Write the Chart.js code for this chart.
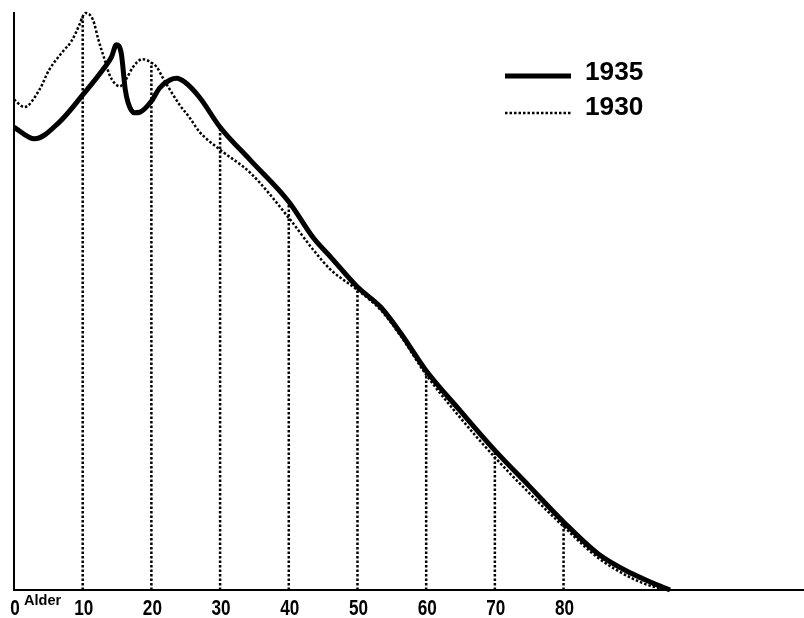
<!DOCTYPE html>
<html>
<head>
<meta charset="utf-8">
<script src="https://cdn.jsdelivr.net/npm/chart.js@4.4.1/dist/chart.umd.min.js"></script>
<style>
  html, body { margin: 0; padding: 0; background: #fff; }
  #wrap { width: 804px; height: 618px; }
</style>
</head>
<body>
<div id="wrap"><canvas id="chart" width="804" height="618"></canvas></div>
<script>
// Age (years) and relative value (0 = axis, 100 = top of y axis)
const ages1935 = [0, 3, 6.6, 10, 13.2, 14.2, 14.9, 15.6, 16.2, 16.6, 17.5, 18.3, 20, 21.2, 22.7, 23.7, 24.9, 27, 30, 34.4, 40, 43.6, 46.1, 50, 53.4, 56.3, 60, 65, 70, 75, 80, 85, 90, 93, 95.5];
const values1935 = [80.2, 78.2, 81.1, 85.8, 90.6, 92.4, 94.5, 93.1, 86.7, 84.5, 82.7, 82.8, 84.7, 87.0, 88.4, 88.7, 88.0, 85.4, 80.2, 74.5, 67.3, 61.0, 57.7, 52.5, 49.0, 44.5, 38.0, 31.0, 24.2, 18.0, 11.8, 6.3, 2.8, 1.2, 0];

const ages1930 = [0, 1.5, 3.7, 5.1, 7.3, 8.3, 9.5, 10, 10.4, 11.5, 12.3, 13.2, 13.9, 14.6, 15.4, 16.4, 17.3, 18.7, 20, 20.8, 21.6, 22.7, 24.1, 25.6, 27, 30, 34.4, 40, 43.6, 46.1, 50, 53.4, 56.3, 60, 65, 70, 75, 80, 85, 90, 93, 95.3];
const values1930 = [85.0, 83.7, 86.7, 90.1, 93.6, 95.0, 97.9, 99.4, 100, 98.8, 95.3, 91.9, 89.3, 87.9, 87.3, 88.7, 90.6, 92.0, 91.4, 90.6, 88.9, 86.7, 84.1, 81.8, 79.4, 76.3, 72.3, 64.5, 58.9, 55.5, 52.0, 48.5, 44.0, 37.3, 29.8, 23.0, 16.8, 11.0, 5.6, 2.0, 0.6, 0];

const xTicks = [0, 10, 20, 30, 40, 50, 60, 70, 80];
const dropAges = [10, 20, 30, 40, 50, 60, 70, 80];
const seriesLabels = ["1935", "1930"];

const FONT = "'Liberation Sans', Arial, sans-serif";

function toPoints(ages, values) {
  return ages.map((a, i) => ({ x: a, y: values[i] }));
}

function valueAt(ages, values, age) {
  const i = ages.indexOf(age);
  return i >= 0 ? values[i] : 0;
}

// narrow text: squeeze horizontally around the anchor point
function narrowText(ctx, text, x, y, squeeze) {
  ctx.save();
  ctx.translate(x, y);
  ctx.scale(squeeze, 1);
  ctx.fillText(text, 0, 0);
  ctx.restore();
}

// Dotted drop lines from the axis up to the higher curve, tick labels, legend, "Alder"
const decorations = {
  id: "decorations",
  beforeDatasetsDraw(chart) {
    const { ctx, scales } = chart;
    ctx.save();
    ctx.strokeStyle = "#000";
    ctx.lineWidth = 2.5;
    ctx.setLineDash([2.5, 2]);
    dropAges.forEach((a) => {
      const top = Math.max(valueAt(ages1935, values1935, a), valueAt(ages1930, values1930, a));
      const x = scales.x.getPixelForValue(a);
      ctx.beginPath();
      ctx.moveTo(x, scales.y.getPixelForValue(0));
      ctx.lineTo(x, scales.y.getPixelForValue(top));
      ctx.stroke();
    });
    ctx.restore();
  },
  afterDraw(chart) {
    const { ctx, scales } = chart;
    ctx.save();
    ctx.fillStyle = "#000";

    // x tick labels
    ctx.font = "bold 22px " + FONT;
    ctx.textAlign = "center";
    ctx.textBaseline = "alphabetic";
    scales.x.ticks.forEach((t) => {
      narrowText(ctx, String(t.value), scales.x.getPixelForValue(t.value) + 1, 615, 0.78);
    });

    // "Alder" next to the 0 tick
    ctx.font = "bold 15px " + FONT;
    ctx.textAlign = "left";
    narrowText(ctx, "Alder", scales.x.getPixelForValue(0) + 10, 605, 0.97);

    // legend
    const rows = [76, 113];
    const textY = [80, 115];
    chart.data.datasets.forEach((d, i) => {
      const y = rows[i];
      ctx.strokeStyle = "#000";
      ctx.lineWidth = d.borderWidth;
      ctx.setLineDash(d.borderDash || []);
      ctx.beginPath();
      ctx.moveTo(505, y);
      ctx.lineTo(571, y);
      ctx.stroke();
      ctx.setLineDash([]);
      ctx.font = "bold 25px " + FONT;
      ctx.textAlign = "left";
      narrowText(ctx, d.label, 585, textY[i], 1.05);
    });
    ctx.restore();
  }
};

new Chart(document.getElementById("chart"), {
  type: "line",
  data: {
    datasets: [
      {
        label: seriesLabels[0],
        data: toPoints(ages1935, values1935),
        borderColor: "#000",
        borderWidth: 5,
        pointRadius: 0,
        cubicInterpolationMode: "monotone",
        clip: false
      },
      {
        label: seriesLabels[1],
        data: toPoints(ages1930, values1930),
        borderColor: "#000",
        borderWidth: 2.5,
        borderDash: [2.5, 2],
        pointRadius: 0,
        cubicInterpolationMode: "monotone",
        clip: false
      }
    ]
  },
  options: {
    responsive: false,
    animation: false,
    layout: { padding: { left: 14, top: 13, right: 0, bottom: 0 } },
    plugins: { legend: { display: false }, tooltip: { enabled: false } },
    scales: {
      x: {
        type: "linear",
        min: 0,
        max: 115,
        afterBuildTicks(scale) {
          scale.ticks = xTicks.map((v) => ({ value: v }));
        },
        afterFit(scale) { scale.height = 28; },
        grid: { display: false },
        border: { color: "#000", width: 2 },
        ticks: { display: false }
      },
      y: {
        min: 0,
        max: 100,
        afterFit(scale) { scale.width = 0; },
        grid: { display: false },
        border: { color: "#000", width: 2 },
        ticks: { display: false }
      }
    }
  },
  plugins: [decorations]
});
</script>
</body>
</html>
